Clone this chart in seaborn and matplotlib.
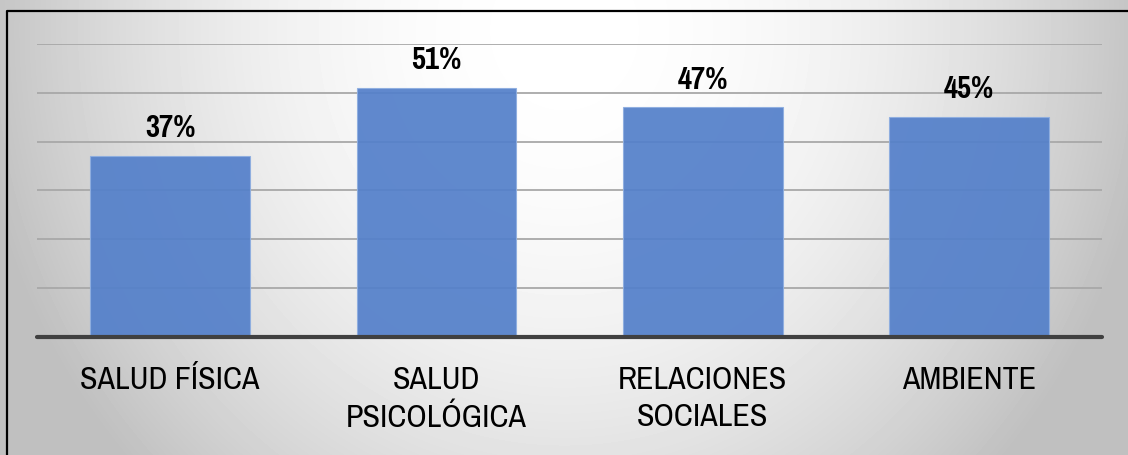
import numpy as np
import pandas as pd
import matplotlib.pyplot as plt
import seaborn as sns
from matplotlib.lines import Line2D

categorias = ["SALUD FÍSICA", "SALUD\nPSICOLÓGICA", "RELACIONES\nSOCIALES", "AMBIENTE"]
valores = [37, 51, 47, 45]
etiquetas = ["37%", "51%", "47%", "45%"]

df = pd.DataFrame({"cat": categorias, "val": valores})

sns.set_style("white")
plt.rcParams["font.family"] = ["Pragati Narrow", "DejaVu Sans"]

W, H = 1128, 455
fig = plt.figure(figsize=(W / 100, H / 100), dpi=100)

# fondo con degradado radial
bg = fig.add_axes([0, 0, 1, 1], zorder=-5)
yy, xx = np.mgrid[0:H, 0:W]
r2 = ((xx - 564) / 650.0) ** 2 + ((yy - 30) / 700.0) ** 2
grad = np.clip(1 - 0.3 * r2, 0.75, 1.0)
bg.imshow(grad, cmap="gray", vmin=0, vmax=1, aspect="auto", extent=[0, W, H, 0])
bg.set_xlim(0, W)
bg.set_ylim(H, 0)
bg.axis("off")
# marco (solo se ven borde izquierdo y superior)
bg.add_line(Line2D([7, 7, W + 5], [H + 5, 11, 11], color="black", lw=1.6))

ax = fig.add_axes([37 / W, (H - 337) / H, (1102 - 37) / W, (337 - 44) / H])
ax.patch.set_alpha(0)
sns.barplot(data=df, x="cat", y="val", color="#5480CA", width=0.6,
            saturation=1, alpha=0.93, edgecolor="#8EAEE0", linewidth=0.8,
            ax=ax, zorder=3)
ax.set_xlim(-0.5, 3.5)
ax.set_ylim(0, 60)
ax.set_yticks(range(10, 61, 10))
ax.yaxis.grid(True, color="#A8A8A8", lw=1.3, zorder=1)
ax.set_axisbelow(True)
ax.axhline(0, color="#404040", lw=3, zorder=4, clip_on=False)
ax.bar_label(ax.containers[0], labels=etiquetas, padding=10,
             fontsize=24, fontweight="bold", color="black")
ax.set_xlabel("")
ax.set_ylabel("")
ax.set_yticklabels([])
ax.tick_params(axis="y", length=0)
ax.tick_params(axis="x", length=0, pad=21, labelsize=25, labelcolor="black")
for t in ax.get_xticklabels():
    t.set_linespacing(1.4)
for s in ax.spines.values():
    s.set_visible(False)

fig.savefig("out.png", dpi=100)
